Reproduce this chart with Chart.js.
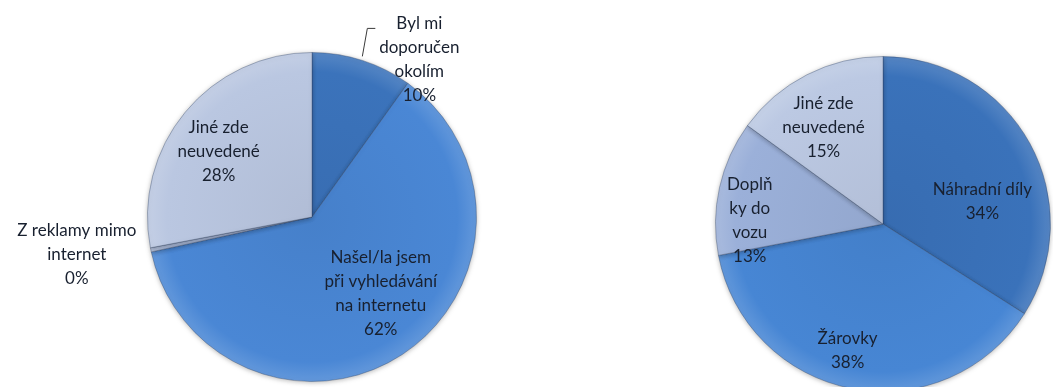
<!DOCTYPE html>
<html>
<head>
<meta charset="utf-8">
<script src="https://cdn.jsdelivr.net/npm/chart.js@4/dist/chart.umd.min.js"></script>
<style>
  html, body { margin: 0; padding: 0; background: #fff; overflow: hidden; width: 1053px; height: 387px; }
  #wrapSource { position: absolute; left: 0; top: 0; width: 530px; height: 387px; }
  #wrapCategory { position: absolute; left: 530px; top: 0; width: 540px; height: 400px; }
</style>
</head>
<body>
<div id="wrapSource"><canvas id="sourceChart" width="530" height="387"></canvas></div>
<div id="wrapCategory"><canvas id="categoryChart" width="540" height="400"></canvas></div>
<script>
// How customers found the shop
const sourceLabels = ['Byl mi\ndoporučen\nokolím', 'Našel/la jsem\npři vyhledávání\nna internetu', 'Z reklamy mimo\ninternet', 'Jiné zde\nneuvedené'];
const sourceValues = [9.9, 61.7, 0.4, 28.0];

// What customers bought
const categoryLabels = ['Náhradní díly', 'Žárovky', 'Doplň\nky do\nvozu', 'Jiné zde\nneuvedené'];
const categoryValues = [34, 38, 13, 15];

const sourceColors = ['#3B73BB', '#4A87D5', '#A9B8D8', '#BAC7E1'];
const categoryColors = ['#3A72BA', '#4786D4', '#9BB0D9', '#BCC9E3'];

// label anchor: fraction of radius along the slice's mid-angle, then a nudge
const sourcePlacement = [
  { f: 1.0, dx: 57, dy: -1, leader: [[0, -4], [5, -32], [13, -32]] },
  { f: 0.65, dx: 10, dy: -13 },
  { f: 1.0, dx: -74, dy: 5 },
  { f: 0.65, dx: -11, dy: 3 }
];
const categoryPlacement = [
  { f: 0.65, dx: 4, dy: 30 },
  { f: 0.65, dx: -15, dy: 20 },
  { f: 0.65, dx: -27, dy: 20 },
  { f: 0.65, dx: -10, dy: 1 }
];

function shade(hex, amt) {
  const n = parseInt(hex.slice(1), 16);
  const ch = [(n >> 16) & 255, (n >> 8) & 255, n & 255].map(v => {
    const t = amt < 0 ? 0 : 255;
    return Math.round(v + (t - v) * Math.abs(amt));
  });
  return 'rgb(' + ch.join(',') + ')';
}

function sliceFill(colors) {
  return (c) => {
    const chart = c.chart;
    const a = chart.chartArea;
    const base = colors[c.dataIndex];
    if (!a) return base;
    const cx = (a.left + a.right) / 2, cy = (a.top + a.bottom) / 2;
    const r = Math.min(a.right - a.left, a.bottom - a.top) / 2;
    const g = chart.ctx.createRadialGradient(cx, cy, 0, cx, cy, r);
    g.addColorStop(0, shade(base, -0.05));
    g.addColorStop(0.88, base);
    g.addColorStop(1, shade(base, 0.14));
    return g;
  };
}

const pieShadow = {
  id: 'pieShadow',
  beforeDatasetDraw(chart) {
    const ctx = chart.ctx;
    ctx.save();
    ctx.shadowColor = 'rgba(0,0,0,0.28)';
    ctx.shadowBlur = 5;
    ctx.shadowOffsetY = 1;
  },
  afterDatasetDraw(chart) {
    chart.ctx.restore();
  }
};

const sliceLabels = {
  id: 'sliceLabels',
  afterDatasetsDraw(chart, args, opts) {
    const ctx = chart.ctx;
    const meta = chart.getDatasetMeta(0);
    const values = chart.data.datasets[0].data;
    const total = values.reduce((s, v) => s + v, 0);
    ctx.save();
    ctx.font = opts.font;
    ctx.fillStyle = opts.color;
    ctx.textAlign = 'center';
    ctx.textBaseline = 'middle';
    meta.data.forEach((arc, i) => {
      const p = opts.placement[i];
      const { x, y, startAngle, endAngle, outerRadius } =
        arc.getProps(['x', 'y', 'startAngle', 'endAngle', 'outerRadius'], true);
      const mid = (startAngle + endAngle) / 2;
      const ax = x + Math.cos(mid) * outerRadius * p.f;
      const ay = y + Math.sin(mid) * outerRadius * p.f;
      const lines = chart.data.labels[i].split('\n')
        .concat(Math.round(values[i] / total * 100) + '%');
      const cx = ax + p.dx, cy = ay + p.dy;
      const top = cy - (lines.length - 1) * opts.lineHeight / 2;
      lines.forEach((t, k) => ctx.fillText(t, cx, top + k * opts.lineHeight));
      if (p.leader) {
        ctx.beginPath();
        ctx.strokeStyle = '#3a3a3a';
        ctx.lineWidth = 1;
        p.leader.forEach(([lx, ly], k) => {
          if (k === 0) ctx.moveTo(ax + lx, ay + ly); else ctx.lineTo(ax + lx, ay + ly);
        });
        ctx.stroke();
      }
    });
    ctx.restore();
  }
};

function makePie(id, labels, values, colors, placement, padding) {
  return new Chart(document.getElementById(id), {
    type: 'pie',
    data: {
      labels: labels,
      datasets: [{
        data: values,
        backgroundColor: sliceFill(colors),
        borderColor: 'rgba(40,60,95,0.35)',
        borderWidth: 1
      }]
    },
    options: {
      responsive: false,
      animation: false,
      devicePixelRatio: 1,
      layout: { padding: padding },
      plugins: {
        legend: { display: false },
        tooltip: { enabled: false },
        sliceLabels: { font: '17px Lato', color: '#18202f', lineHeight: 24, placement: placement }
      }
    },
    plugins: [pieShadow, sliceLabels]
  });
}

makePie('sourceChart', sourceLabels, sourceValues, sourceColors, sourcePlacement,
  { left: 147, right: 53, top: 52, bottom: 5 });
makePie('categoryChart', categoryLabels, categoryValues, categoryColors, categoryPlacement,
  { left: 185, right: 19, top: 56, bottom: 8 });
</script>
</body>
</html>
